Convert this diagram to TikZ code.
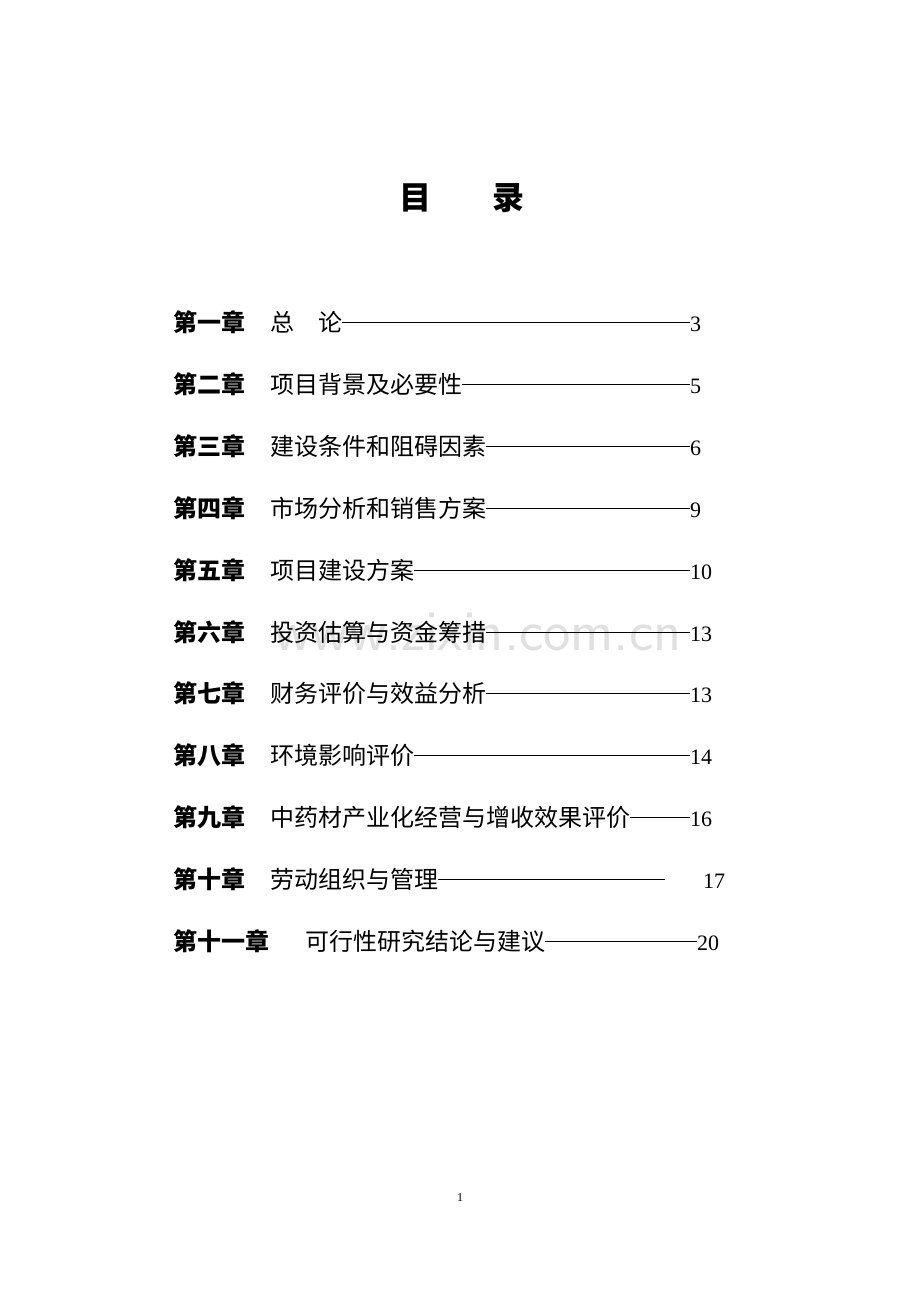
\documentclass[tikz,border=0pt]{standalone}
\usepackage{fontspec}
\setmainfont{Liberation Serif}
\newfontfamily\cjk{Noto Sans CJK SC}
\usetikzlibrary{positioning}

\begin{document}
\begin{tikzpicture}[x=1pt, y=-1pt,
    chap/.style = {anchor=base west, inner sep=0pt, font=\cjk\bfseries\fontsize{24}{24}\selectfont},
    ttl/.style = {anchor=base west, inner sep=0pt, font=\cjk\fontsize{24}{24}\selectfont},
    num/.style = {anchor=base west, inner sep=0pt, font=\fontsize{22}{22}\selectfont},
    lead/.style = {line width=0.7pt}]
  \useasboundingbox (0,0) rectangle (920,1302);

  % Watermark
  \node[text=black!12, font=\sffamily\fontsize{58}{58}\selectfont] (mark) at (478,632) {www.zixin.com.cn};

  % Heading
  \node[font=\cjk\bfseries\fontsize{32}{32}\selectfont] (head) at (462,198) {目\hspace{1.9em}录};

  % Entries
  \foreach \y/\lab/\tx/\ttext/\lend/\nx/\pg [count=\i] in {
      331/第一章/270/总\hspace{1em}论/690/690/3,
      393/第二章/270/项目背景及必要性/690/690/5,
      455/第三章/270/建设条件和阻碍因素/690/690/6,
      517/第四章/270/市场分析和销售方案/690/690/9,
      579/第五章/270/项目建设方案/690/690/10,
      641/第六章/270/投资估算与资金筹措/690/690/13,
      702/第七章/270/财务评价与效益分析/690/690/13,
      764/第八章/270/环境影响评价/690/690/14,
      826/第九章/270/中药材产业化经营与增收效果评价/690/690/16,
      888/第十章/270/劳动组织与管理/665/703/17,
      950/第十一章/305/可行性研究结论与建议/697/697/20} {
    \node[chap] (c\i) at (173,\y) {\lab};
    \node[ttl] (t\i) at (\tx,\y) {\ttext};
    \node[num] (n\i) at (\nx,\y) {\pg};
    \coordinate (e\i) at (\lend,\y-9);
    \draw[lead] (t\i.base east) ++(0,-9) -- (e\i);
  }

  % Folio
  \node[font=\fontsize{12}{12}\selectfont] (folio) at (460,1198) {1};
\end{tikzpicture}
\end{document}
